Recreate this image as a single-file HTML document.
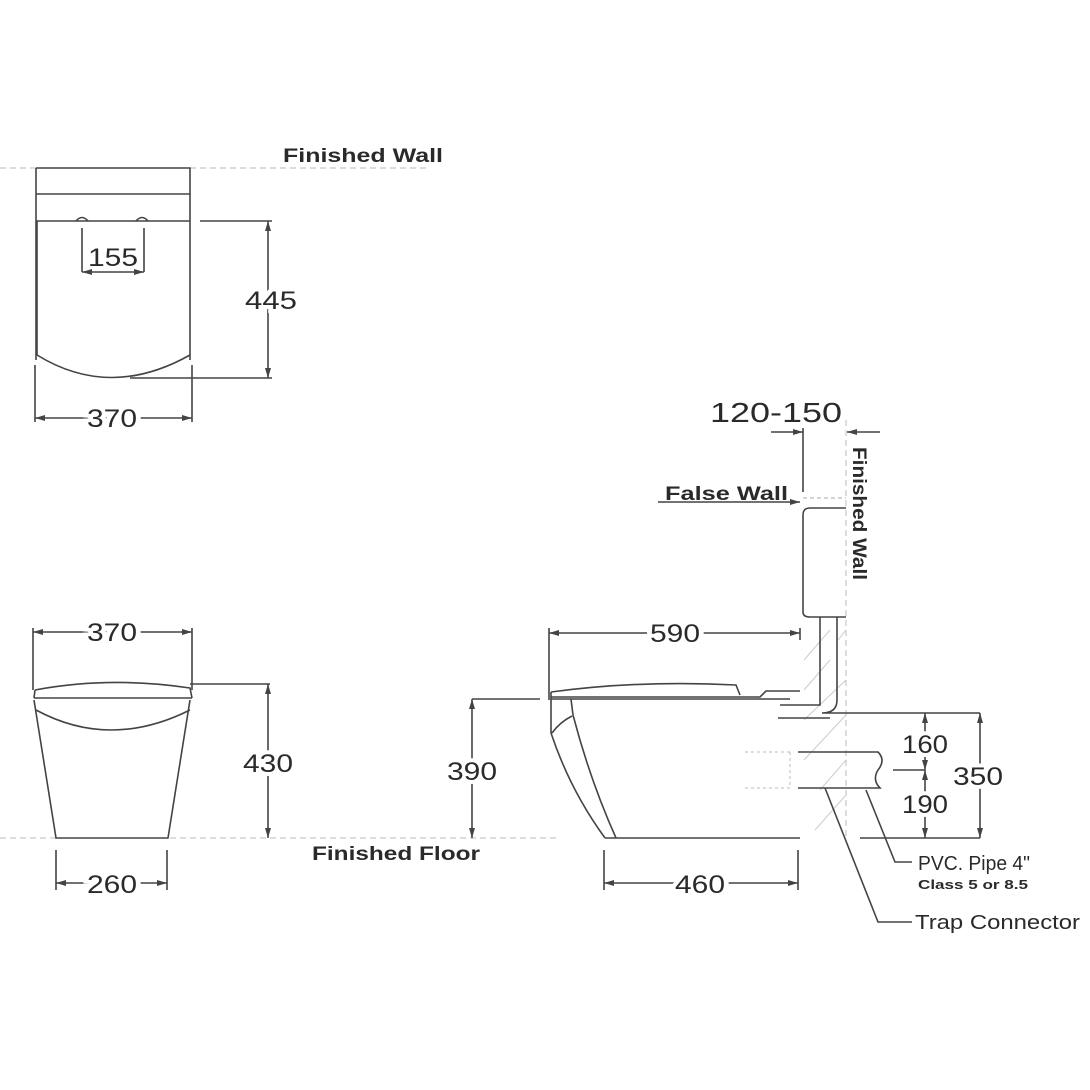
<!DOCTYPE html>
<html><head><meta charset="utf-8"><style>
html,body{margin:0;padding:0;background:#fff;}
svg{display:block;}
text{font-family:"Liberation Sans",sans-serif;fill:#2a2a2a;}
</style></head><body>
<svg width="1090" height="1090" viewBox="0 0 1090 1090" xmlns="http://www.w3.org/2000/svg">
<defs>
<marker id="a" viewBox="0 0 10 6" refX="10" refY="3" markerWidth="10" markerHeight="6" orient="auto-start-reverse" markerUnits="userSpaceOnUse">
<path d="M0,0 L10,3 L0,6 z" fill="#444"/></marker>
</defs>
<g fill="none" stroke="#444" stroke-width="1.6">
<line x1="0" y1="168" x2="430" y2="168" stroke="#bbb" stroke-dasharray="6,4" stroke-width="1"/>
<line x1="0" y1="838" x2="560" y2="838" stroke="#bbb" stroke-dasharray="6,4" stroke-width="1"/>
<line x1="846" y1="420" x2="846" y2="838" stroke="#bbb" stroke-dasharray="6,4" stroke-width="1"/>

<path d="M36,168 H190 V360 M36,168 V360"/>
<line x1="36" y1="194" x2="190" y2="194"/>
<line x1="36" y1="221" x2="190" y2="221"/>
<path d="M37,221 V355 Q110,400 190,355"/>
<path d="M76,221 Q82,214 88,221 M136,221 Q142,214 148,221"/>
<path d="M82,228 V272 M144,228 V272"/>
<line x1="82" y1="272" x2="144" y2="272" marker-start="url(#a)" marker-end="url(#a)"/>
<path d="M200,221 H272 M130,378 H272"/>
<line x1="268" y1="221" x2="268" y2="378" marker-start="url(#a)" marker-end="url(#a)"/>
<path d="M35,365 V422 M192,365 V422"/>
<line x1="35" y1="418" x2="192" y2="418" marker-start="url(#a)" marker-end="url(#a)"/>

<path d="M33,628 V690 M192,628 V690"/>
<line x1="33" y1="632" x2="192" y2="632" marker-start="url(#a)" marker-end="url(#a)"/>
<path d="M35,690 Q110,676 190,688 L192,698 M35,690 L34,698"/>
<line x1="34" y1="698" x2="192" y2="698"/>
<path d="M36,710 Q110,750 190,710"/>
<path d="M34,700 L56,838 H168 L190,700"/>
<path d="M190,684 H270"/>
<line x1="268" y1="684" x2="268" y2="838" marker-start="url(#a)" marker-end="url(#a)"/>
<path d="M56,850 V890 M167,850 V890"/>
<line x1="56" y1="883" x2="167" y2="883" marker-start="url(#a)" marker-end="url(#a)"/>

<g stroke="#ccc" stroke-width="1">
<line x1="804" y1="660" x2="830" y2="630"/><line x1="804" y1="690" x2="830" y2="660"/>
<line x1="804" y1="720" x2="846" y2="680"/><line x1="804" y1="760" x2="846" y2="715"/>
<line x1="820" y1="790" x2="846" y2="760"/><line x1="815" y1="830" x2="846" y2="795"/>
<line x1="838" y1="640" x2="846" y2="630"/>
</g>
<line x1="803" y1="498" x2="846" y2="498" stroke="#aaa" stroke-dasharray="4,3" stroke-width="1"/>
<line x1="771" y1="432" x2="803" y2="432" marker-end="url(#a)"/>
<line x1="803" y1="428" x2="803" y2="492"/>
<line x1="880" y1="432" x2="847" y2="432" marker-end="url(#a)"/>
<line x1="658" y1="502" x2="800" y2="502" marker-end="url(#a)"/>
<path d="M846,508 H810 Q803,508 803,515 V612 Q803,617 810,617 H846"/>
<path d="M820,617 V705 H780 M837,617 V700 Q837,713 822,713 H980 M778,718 H830"/>
<line x1="549" y1="633" x2="800" y2="633" marker-start="url(#a)" marker-end="url(#a)"/>
<line x1="549" y1="628" x2="549" y2="700"/>
<line x1="800" y1="628" x2="800" y2="640"/>
<path d="M551,692 Q640,680 736,685 L740,695 M551,692 V699"/>
<path d="M551,697 H760 L766,691 H800"/>
<line x1="551" y1="699" x2="790" y2="699"/>
<path d="M551,699 V733 Q570,790 605,838 M571,699 L573,715 Q590,780 616,838 M552,733 Q560,722 572,716"/>
<line x1="605" y1="838" x2="800" y2="838"/>
<path d="M798,752 H878 Q886,760 878,770 Q872,780 880,788 H798"/>
<g stroke="#bbb" stroke-width="1" stroke-dasharray="3,3"><line x1="745" y1="752" x2="790" y2="752"/><line x1="745" y1="788" x2="790" y2="788"/><line x1="790" y1="752" x2="790" y2="788"/></g>
<line x1="472" y1="699" x2="540" y2="699"/>
<line x1="472" y1="699" x2="472" y2="838" marker-start="url(#a)" marker-end="url(#a)"/>
<path d="M604,850 V890 M798,850 V890"/>
<line x1="604" y1="883" x2="798" y2="883" marker-start="url(#a)" marker-end="url(#a)"/>
<line x1="860" y1="838" x2="980" y2="838"/>
<line x1="925" y1="713" x2="925" y2="770" marker-start="url(#a)" marker-end="url(#a)"/>
<line x1="925" y1="770" x2="925" y2="838" marker-start="url(#a)" marker-end="url(#a)"/>
<line x1="893" y1="770" x2="925" y2="770"/>
<line x1="980" y1="713" x2="980" y2="838" marker-start="url(#a)" marker-end="url(#a)"/>
<path d="M866,790 L895,862 H912"/>
<path d="M825,788 L878,922 H912"/>
</g>

<g font-size="19" font-weight="bold">
<text x="283" y="162" textLength="160" lengthAdjust="spacingAndGlyphs">Finished Wall</text>
<text x="312" y="860" textLength="168" lengthAdjust="spacingAndGlyphs">Finished Floor</text>
<text x="665" y="500" textLength="123" lengthAdjust="spacingAndGlyphs">False Wall</text>
<text transform="translate(853,447) rotate(90)" textLength="133" lengthAdjust="spacingAndGlyphs">Finished Wall</text>
</g>
<g font-size="25" text-anchor="middle">
<g stroke="#fff" stroke-width="8" fill="#fff">
<text x="271" y="309" textLength="52" lengthAdjust="spacingAndGlyphs">445</text>
<text x="112" y="427" textLength="50" lengthAdjust="spacingAndGlyphs">370</text>
<text x="112" y="641" textLength="50" lengthAdjust="spacingAndGlyphs">370</text>
<text x="268" y="772" textLength="50" lengthAdjust="spacingAndGlyphs">430</text>
<text x="112" y="893" textLength="50" lengthAdjust="spacingAndGlyphs">260</text>
<text x="472" y="780" textLength="50" lengthAdjust="spacingAndGlyphs">390</text>
<text x="675" y="642" textLength="50" lengthAdjust="spacingAndGlyphs">590</text>
<text x="700" y="893" textLength="50" lengthAdjust="spacingAndGlyphs">460</text>
<text x="925" y="753" textLength="46" lengthAdjust="spacingAndGlyphs">160</text>
<text x="925" y="813" textLength="46" lengthAdjust="spacingAndGlyphs">190</text>
<text x="978" y="785" textLength="50" lengthAdjust="spacingAndGlyphs">350</text>
</g>
<text x="113" y="266" textLength="50" lengthAdjust="spacingAndGlyphs">155</text>
<text x="271" y="309" textLength="52" lengthAdjust="spacingAndGlyphs">445</text>
<text x="112" y="427" textLength="50" lengthAdjust="spacingAndGlyphs">370</text>
<text x="112" y="641" textLength="50" lengthAdjust="spacingAndGlyphs">370</text>
<text x="268" y="772" textLength="50" lengthAdjust="spacingAndGlyphs">430</text>
<text x="112" y="893" textLength="50" lengthAdjust="spacingAndGlyphs">260</text>
<text x="472" y="780" textLength="50" lengthAdjust="spacingAndGlyphs">390</text>
<text x="675" y="642" textLength="50" lengthAdjust="spacingAndGlyphs">590</text>
<text x="700" y="893" textLength="50" lengthAdjust="spacingAndGlyphs">460</text>
<text x="925" y="753" textLength="46" lengthAdjust="spacingAndGlyphs">160</text>
<text x="925" y="813" textLength="46" lengthAdjust="spacingAndGlyphs">190</text>
<text x="978" y="785" textLength="50" lengthAdjust="spacingAndGlyphs">350</text>
</g>
<text x="710" y="422" font-size="28" textLength="132" lengthAdjust="spacingAndGlyphs">120-150</text>
<text x="918" y="870" font-size="20" textLength="112" lengthAdjust="spacingAndGlyphs">PVC. Pipe 4"</text>
<text x="918" y="889" font-size="13" font-weight="bold" textLength="110" lengthAdjust="spacingAndGlyphs">Class 5 or 8.5</text>
<text x="915" y="929" font-size="20" textLength="165" lengthAdjust="spacingAndGlyphs">Trap Connector</text>
</svg>
</body></html>
